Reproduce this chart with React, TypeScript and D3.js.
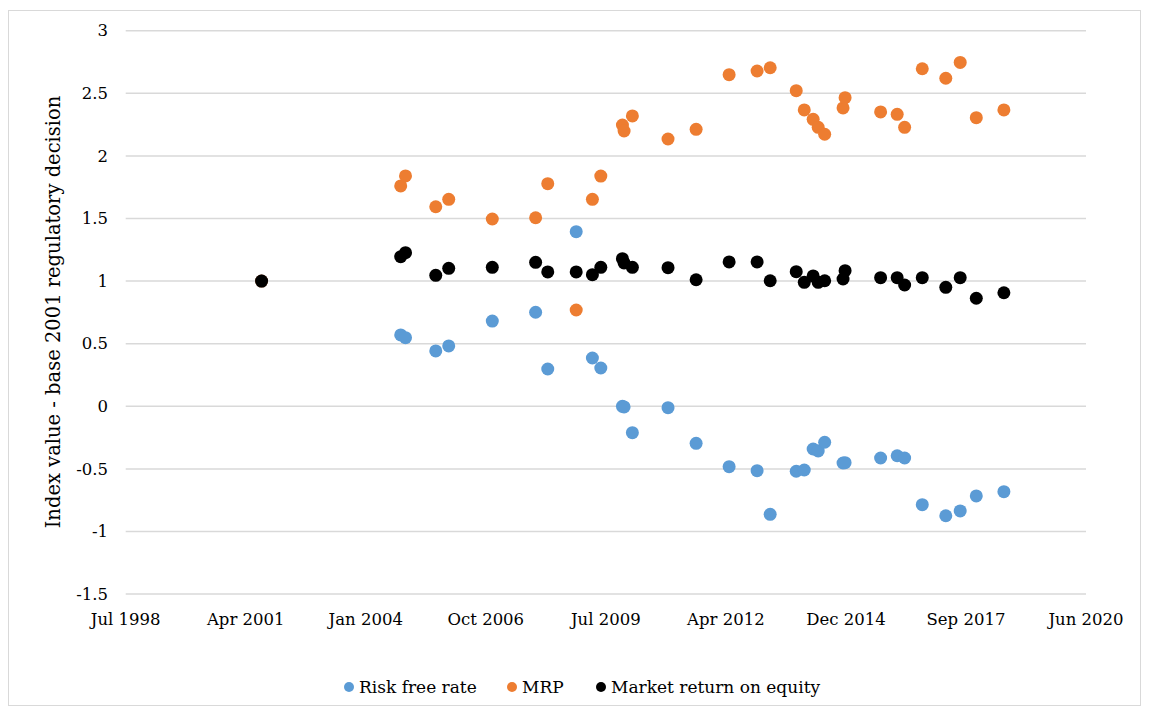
import React from "react";
import * as d3 from "d3";

const decisionDates = ["2001-08-29","2004-10-31","2004-12-10","2005-08-19","2005-12-05","2006-12-03","2007-11-29","2008-03-09","2008-11-01","2009-03-16","2009-05-25","2009-11-21","2009-12-05","2010-02-12","2010-12-06","2011-07-28","2012-04-28","2012-12-17","2013-04-05","2013-11-08","2014-01-14","2014-03-29","2014-05-10","2014-07-03","2014-12-03","2014-12-20","2015-10-12","2016-02-27","2016-04-29","2016-09-23","2017-04-07","2017-08-05","2017-12-17","2018-08-04"];

const riskFree = [1.0,0.570,0.548,0.442,0.482,0.681,0.751,0.298,1.395,0.386,0.306,0.0,-0.005,-0.211,-0.011,-0.296,-0.482,-0.514,-0.863,-0.519,-0.509,-0.341,-0.357,-0.287,-0.453,-0.45,-0.413,-0.395,-0.413,-0.786,-0.874,-0.836,-0.716,-0.682];

const mrp = [1.0,1.760,1.840,1.594,1.653,1.496,1.506,1.778,0.769,1.653,1.839,2.247,2.199,2.319,2.135,2.212,2.649,2.678,2.704,2.521,2.367,2.292,2.228,2.173,2.383,2.465,2.351,2.332,2.228,2.696,2.620,2.747,2.305,2.367];

const marketReturn = [1.0,1.195,1.227,1.046,1.102,1.110,1.150,1.073,1.073,1.051,1.110,1.179,1.145,1.110,1.107,1.011,1.153,1.153,1.003,1.075,0.990,1.041,0.990,1.003,1.017,1.083,1.027,1.027,0.969,1.027,0.950,1.027,0.863,0.907];

const seriesNames = ["Risk free rate", "MRP", "Market return on equity"];
const seriesColors = ["#5B9BD5", "#ED7D31", "#000000"];

const xTickLabels = ["Jul 1998","Apr 2001","Jan 2004","Oct 2006","Jul 2009","Apr 2012","Dec 2014","Sep 2017","Jun 2020"];
const yTicks = [-1.5,-1,-0.5,0,0.5,1,1.5,2,2.5,3];

const W = 1149, H = 711;
const FONT = "'DejaVu Serif', serif";

export default function App() {
  const parse = d3.timeParse("%Y-%m-%d");
  const xStart = new Date(1998, 6, 24);
  const xEnd = d3.timeDay.offset(xStart, 8000);
  const x = d3.scaleTime().domain([xStart, xEnd]).range([125.7, 1086]);
  const y = d3.scaleLinear().domain([-1.5, 3]).range([594.1, 30.7]);
  const xTicks = d3.range(0, 9).map(i => d3.timeDay.offset(xStart, i * 1000));
  const dates = decisionDates.map(s => parse(s) as Date);
  const series = [riskFree, mrp, marketReturn];

  const legendItems = [
    { x: 349, tx: 359 },
    { x: 512, tx: 522 },
    { x: 601, tx: 611 },
  ];

  return (
    <svg width={W} height={H} style={{ position: "absolute", left: 0, top: 0, background: "#fff" }}>
      <rect x={8.5} y={10.5} width={1132} height={695} fill="#fff" stroke="#d9d9d9" strokeWidth={1} />
      {yTicks.map(t => (
        <g key={t}>
          <line x1={x.range()[0]} x2={x.range()[1]} y1={y(t)} y2={y(t)} stroke="#d9d9d9" strokeWidth={1.5} />
          <text x={108} y={y(t)} dy="0.35em" textAnchor="end" fontFamily={FONT} fontSize={16.5} fill="#000">{t}</text>
        </g>
      ))}
      {xTicks.map((t, i) => (
        <text key={i} x={x(t)} y={625} textAnchor="middle" fontFamily={FONT} fontSize={16.5} fill="#000">{xTickLabels[i]}</text>
      ))}
      <text transform={`translate(60,${312}) rotate(-90)`} textAnchor="middle" fontFamily={FONT} fontSize={19.5} fill="#000">
        Index value - base  2001 regulatory decision
      </text>
      {series.map((vals, si) => (
        <g key={si}>
          {vals.map((v, i) => (
            <circle key={i} cx={x(dates[i])} cy={y(v)} r={6.5} fill={seriesColors[si]} />
          ))}
        </g>
      ))}
      {seriesNames.map((n, i) => (
        <g key={n}>
          <circle cx={legendItems[i].x} cy={687} r={5} fill={seriesColors[i]} />
          <text x={legendItems[i].tx} y={687} dy="0.35em" fontFamily={FONT} fontSize={17} fill="#000">{n}</text>
        </g>
      ))}
    </svg>
  );
}
